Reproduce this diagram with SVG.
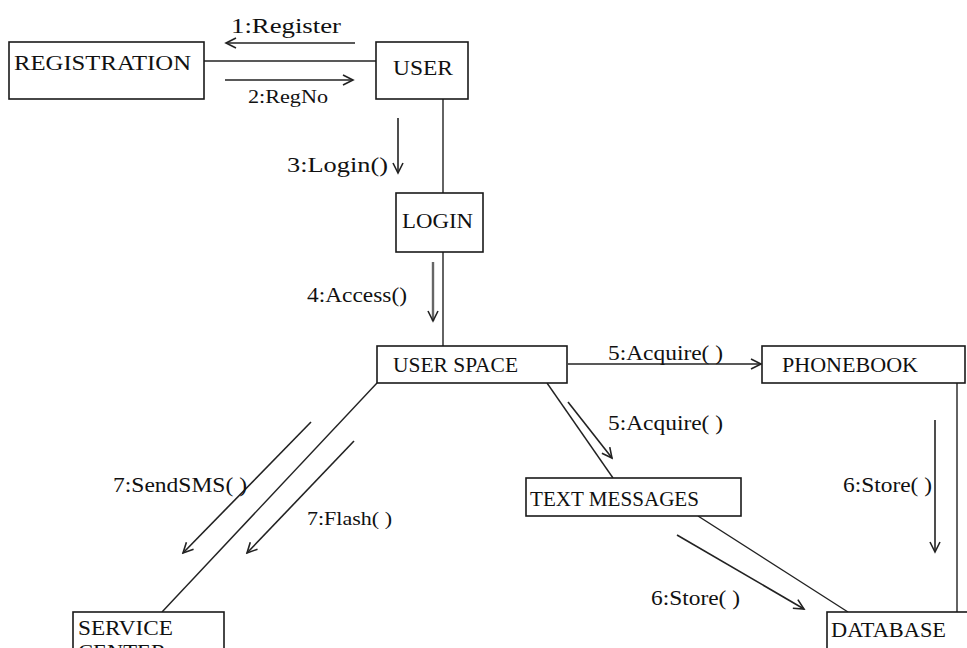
<svg xmlns="http://www.w3.org/2000/svg" width="967" height="648" viewBox="0 0 967 648">
<style>
.box{fill:#fff;stroke:#1a1a1a;stroke-width:1.6}
.ln{stroke:#222;stroke-width:1.4;fill:none}
.ar{stroke:#222;stroke-width:1.6;fill:none;marker-end:url(#open)}
.arg{stroke:#666;stroke-width:2.4;fill:none;marker-end:url(#open)}
text{font-family:"Liberation Serif","Times New Roman",serif;fill:#111}
.t{font-size:22px}
.s{font-size:19px}
</style>
<defs>
<marker id="open" markerUnits="userSpaceOnUse" viewBox="-12 -7 14 14" markerWidth="14" markerHeight="14" refX="0" refY="0" orient="auto">
<path d="M-10,-5 L0,0 L-10,5" fill="none" stroke="#222" stroke-width="1.6"/>
</marker>
</defs>
<rect width="967" height="648" fill="#fff"/>
<g id="connectors">
<line class="ln" x1="204" y1="61" x2="376" y2="61"/>
<line class="ln" x1="443" y1="99" x2="443" y2="193"/>
<line class="ln" x1="443" y1="252" x2="443" y2="346"/>
<line class="ln" x1="547" y1="383" x2="613" y2="478"/>
<line class="ln" x1="377" y1="383" x2="162" y2="612"/>
<line class="ln" x1="698" y1="516" x2="848" y2="612"/>
<line class="ln" x1="957" y1="383" x2="957" y2="612"/>
<line class="ar" x1="355" y1="43" x2="226" y2="43"/>
<line class="ar" x1="225" y1="80" x2="353" y2="80"/>
<line class="ar" x1="398" y1="118" x2="398" y2="173"/>
<line class="arg" x1="433" y1="262" x2="433" y2="321"/>
<line class="ar" x1="568" y1="364" x2="761" y2="364"/>
<line class="ar" x1="568" y1="402" x2="612" y2="458"/>
<line class="ar" x1="935" y1="420" x2="935" y2="552"/>
<line class="ar" x1="677" y1="535" x2="804" y2="609"/>
<line class="ar" x1="311" y1="422" x2="183" y2="553"/>
<line class="ar" x1="354" y1="441" x2="247" y2="553"/>
</g>
<g id="labels">
<text class="t" x="231" y="33" textLength="110" lengthAdjust="spacingAndGlyphs">1:Register</text>
<text class="s" x="248" y="103" textLength="80" lengthAdjust="spacingAndGlyphs">2:RegNo</text>
<text class="t" x="287" y="172" textLength="101" lengthAdjust="spacingAndGlyphs">3:Login()</text>
<text class="t" x="307" y="302" textLength="100" lengthAdjust="spacingAndGlyphs">4:Access()</text>
<text class="t" x="608" y="360" textLength="115" lengthAdjust="spacingAndGlyphs">5:Acquire( )</text>
<text class="t" x="608" y="430" textLength="115" lengthAdjust="spacingAndGlyphs">5:Acquire( )</text>
<text class="t" x="843" y="492" textLength="89" lengthAdjust="spacingAndGlyphs">6:Store( )</text>
<text class="t" x="651" y="605" textLength="89" lengthAdjust="spacingAndGlyphs">6:Store( )</text>
<text class="t" x="113" y="492" textLength="134" lengthAdjust="spacingAndGlyphs">7:SendSMS( )</text>
<text class="s" x="307" y="525" textLength="85" lengthAdjust="spacingAndGlyphs">7:Flash( )</text>
</g>
<g id="registration">
<rect class="box" x="9" y="42" width="195" height="57"/>
<text class="t" x="14" y="70" textLength="177" lengthAdjust="spacingAndGlyphs">REGISTRATION</text>
</g>
<g id="user">
<rect class="box" x="376" y="42" width="92" height="57"/>
<text class="t" x="393" y="75" textLength="60" lengthAdjust="spacingAndGlyphs">USER</text>
</g>
<g id="login">
<rect class="box" x="396" y="193" width="87" height="59"/>
<text class="t" x="402" y="228" textLength="71" lengthAdjust="spacingAndGlyphs">LOGIN</text>
</g>
<g id="userspace">
<rect class="box" x="377" y="346" width="190" height="37"/>
<text class="t" x="393" y="372" textLength="125" lengthAdjust="spacingAndGlyphs">USER SPACE</text>
</g>
<g id="phonebook">
<rect class="box" x="762" y="346" width="203" height="37"/>
<text class="t" x="782" y="372" textLength="136" lengthAdjust="spacingAndGlyphs">PHONEBOOK</text>
</g>
<g id="textmessages">
<rect class="box" x="526" y="478" width="215" height="38"/>
<text class="t" x="530" y="506" textLength="169" lengthAdjust="spacingAndGlyphs">TEXT MESSAGES</text>
</g>
<g id="servicecenter">
<rect class="box" x="73" y="612" width="151" height="60"/>
<text class="t" x="78" y="635" textLength="95" lengthAdjust="spacingAndGlyphs">SERVICE</text>
<text class="t" x="78" y="659" textLength="88" lengthAdjust="spacingAndGlyphs">CENTER</text>
</g>
<g id="database">
<rect class="box" x="827" y="612" width="145" height="60"/>
<text class="t" x="831" y="637" textLength="115" lengthAdjust="spacingAndGlyphs">DATABASE</text>
</g>
</svg>
